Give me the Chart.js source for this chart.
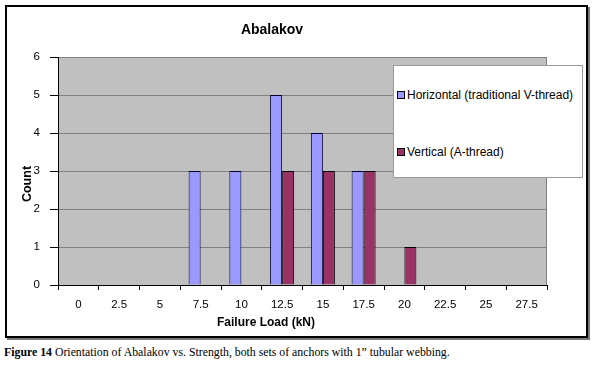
<!DOCTYPE html>
<html>
<head>
<meta charset="utf-8">
<script src="https://cdn.jsdelivr.net/npm/chart.js@4"></script>
<style>
  body { margin: 0; background: #fff; }
  #wrap { position: relative; width: 599px; height: 366px; overflow: hidden; }
  #frame { position: absolute; left: 5px; top: 5px; width: 583px; height: 333px; border: 2px solid #000; box-sizing: border-box; box-shadow: 2px 2px 0 #777; }
  #chart { position: absolute; left: 0; top: 0; }
  #legend { position: absolute; left: 393px; top: 65px; width: 190px; height: 113px; background: #fff; border: 1px solid #999; box-sizing: border-box; font: 12px "Liberation Sans", Arial, sans-serif; color: #000; }
  #legend .item { position: absolute; left: 3px; white-space: nowrap; line-height: 14px; }
  #legend .swatch { display: inline-block; width: 6px; height: 6px; border: 1px solid #000; margin-right: 2px; vertical-align: 0px; }
  #caption { position: absolute; left: 4px; top: 345px; font: 11.8px "Liberation Serif", "Times New Roman", serif; white-space: nowrap; }
</style>
</head>
<body>
<div id="wrap">
  <div id="frame"></div>
  <canvas id="chart" width="599" height="340"></canvas>
  <div id="legend"></div>
  <div id="caption"><b>Figure 14</b> Orientation of Abalakov vs. Strength, both sets of anchors with 1” tubular webbing.</div>
</div>
<script>
// categories (failure load, kN)
const loads = ['0', '2.5', '5', '7.5', '10', '12.5', '15', '17.5', '20', '22.5', '25', '27.5'];
// counts per bin
const horizontalCounts = [0, 0, 0, 3, 3, 5, 4, 3, 0, 0, 0, 0];
const verticalCounts = [0, 0, 0, 0, 0, 3, 3, 3, 1, 0, 0, 0];
const seriesNames = ['Horizontal (traditional V-thread)', 'Vertical (A-thread)'];
const seriesColors = ['#9999ff', '#993366'];

const FONT = '"Liberation Sans", Arial, sans-serif';

// grey plot area like excel
const plotArea = {
  id: 'plotArea',
  beforeDraw(chart) {
    const { ctx, chartArea: a } = chart;
    ctx.save();
    ctx.fillStyle = '#c0c0c0';
    ctx.fillRect(a.left, a.top, a.right - a.left, a.bottom - a.top);
    ctx.strokeStyle = '#808080';
    ctx.lineWidth = 1;
    ctx.strokeRect(a.left + 0.5, a.top + 0.5, a.right - a.left - 1, a.bottom - a.top);
    ctx.restore();
  }
};

// titles sit where excel put them, not centred on the plot
const titles = {
  id: 'titles',
  afterDraw(chart) {
    const ctx = chart.ctx;
    ctx.save();
    ctx.fillStyle = '#000';
    ctx.textAlign = 'center';
    ctx.textBaseline = 'middle';
    ctx.font = 'bold 14px ' + FONT;
    ctx.fillText('Abalakov', 272, 30);
    ctx.font = 'bold 12px ' + FONT;
    ctx.fillText('Failure Load (kN)', 266, 323);
    ctx.translate(28, 184);
    ctx.rotate(-Math.PI / 2);
    ctx.font = 'bold 12.5px ' + FONT;
    ctx.fillText('Count', 0, 0);
    ctx.restore();
  }
};

const chart = new Chart(document.getElementById('chart'), {
  type: 'bar',
  data: {
    labels: loads,
    datasets: [
      { label: seriesNames[0], data: horizontalCounts, backgroundColor: seriesColors[0], borderColor: '#000033', borderWidth: 1 },
      { label: seriesNames[1], data: verticalCounts, backgroundColor: seriesColors[1], borderColor: '#000', borderWidth: 1 }
    ]
  },
  options: {
    responsive: false,
    animation: false,
    events: [],
    categoryPercentage: 0.59,
    barPercentage: 1.0,
    layout: { padding: { left: 0, top: 57, right: 52, bottom: 15 } },
    plugins: {
      legend: { display: false },
      tooltip: { enabled: false }
    },
    scales: {
      x: {
        grid: { drawOnChartArea: false, tickLength: 5, tickColor: '#000', offset: true },
        border: { color: '#000', width: 1 },
        ticks: { color: '#000', font: { family: FONT, size: 11.5 }, padding: 8, maxRotation: 0 },
        afterFit(scale) { scale.height = 40; }
      },
      y: {
        min: 0,
        max: 6,
        grid: { color: '#808080', tickLength: 8, tickColor: '#000' },
        border: { color: '#000', width: 1 },
        ticks: { stepSize: 1, color: '#000', font: { family: FONT, size: 11.5 }, padding: 10 },
        afterFit(scale) { scale.width = 58; }
      }
    }
  },
  plugins: [plotArea, titles]
});

// legend box, excel style
const legend = document.getElementById('legend');
const itemTops = [22, 79];
seriesNames.forEach((name, i) => {
  const item = document.createElement('div');
  item.className = 'item';
  item.style.top = itemTops[i] + 'px';
  item.innerHTML = `<span class="swatch" style="background:${seriesColors[i]}"></span>${name}`;
  legend.appendChild(item);
});
</script>
</body>
</html>
